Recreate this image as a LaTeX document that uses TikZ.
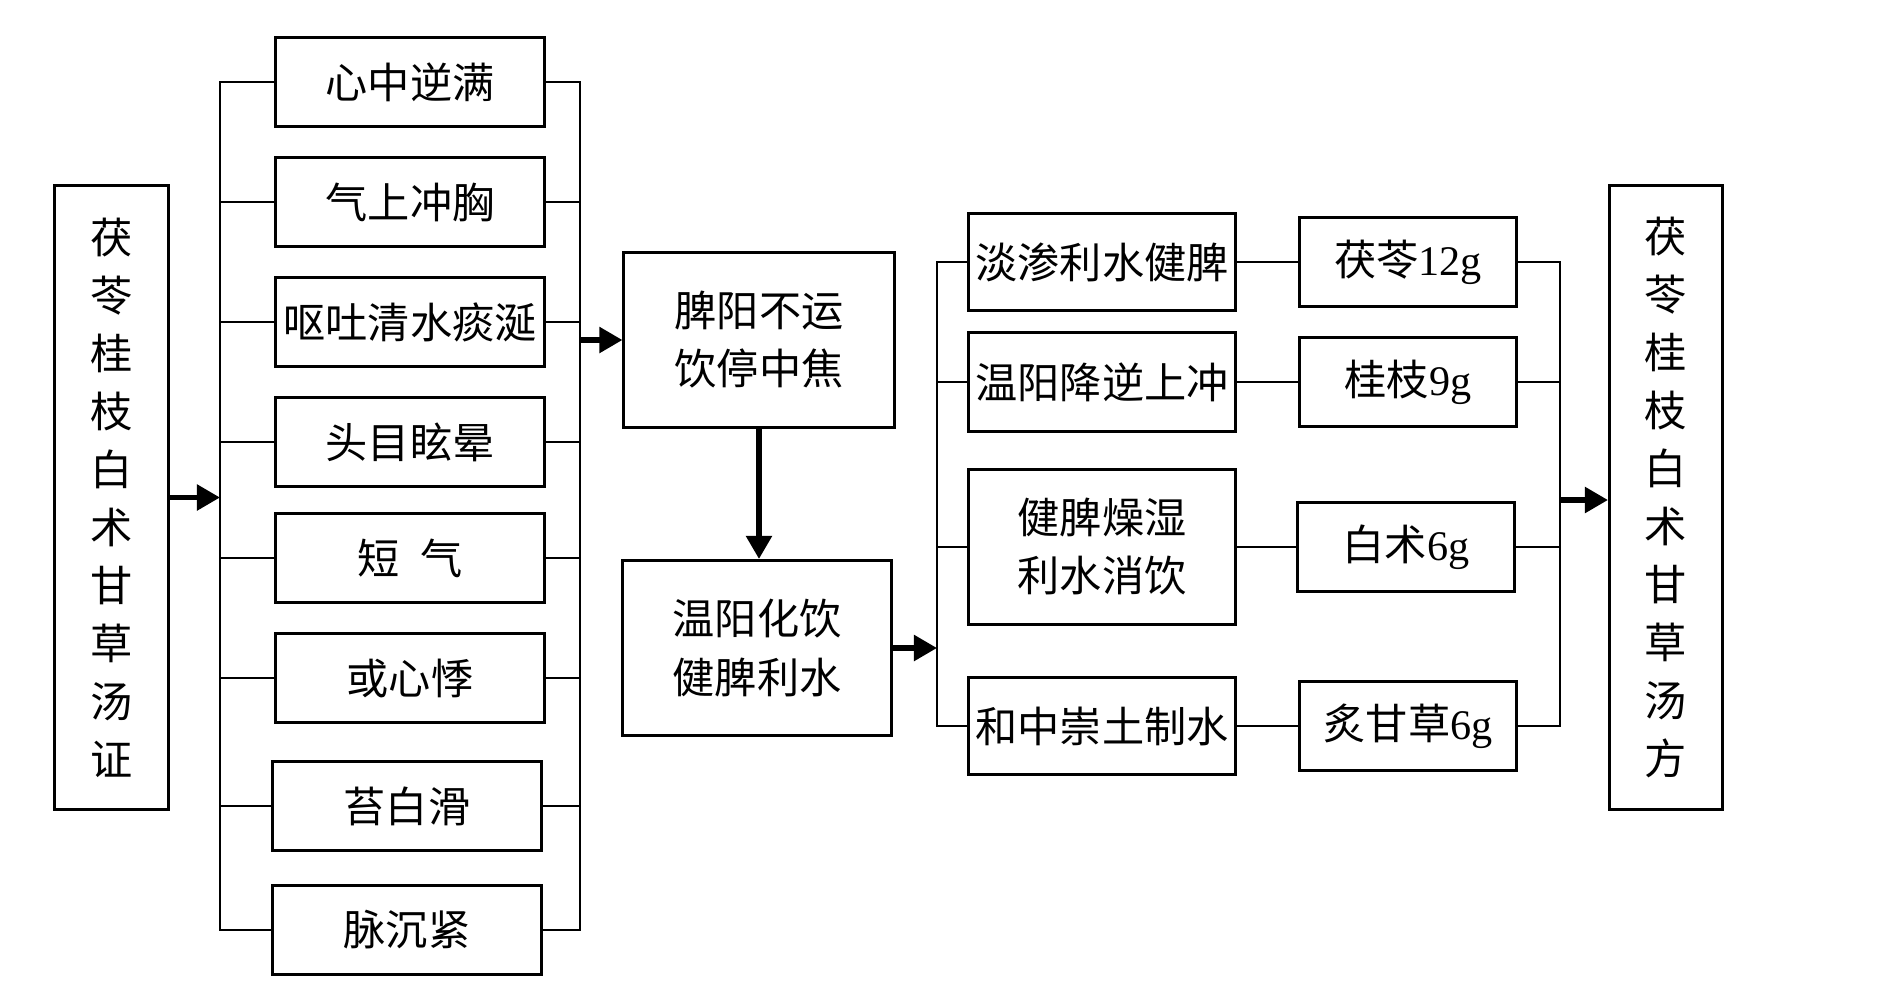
\documentclass[tikz,border=0pt]{standalone}
\usepackage{fontspec}
\setmainfont{Liberation Serif}
\newfontfamily\cjk{Noto Sans CJK SC}
\usetikzlibrary{arrows.meta}
\newcommand{\SymX}{410}
\newcommand{\FunX}{1102}
\newcommand{\HerbX}{1408}

\begin{document}
\begin{tikzpicture}[x=0.01cm,y=-0.01cm,
  cell/.style={draw,line width=0.85pt,inner sep=0pt,align=center,
    font=\cjk\fontsize{12}{16.5}\selectfont},
  symcell/.style={cell,minimum width=2.69cm,minimum height=0.89cm},
  funcell/.style={cell,minimum width=2.66cm},
  herbcell/.style={cell,minimum width=2.16cm,minimum height=0.88cm},
  link/.style={line width=0.6pt},
  flow/.style={line width=1.5pt,-{Triangle[length=2.3mm,width=2.5mm]}}]

\useasboundingbox (0,0) rectangle (1896,984);

% left: syndrome
\node[cell,minimum width=1.13cm,minimum height=6.23cm] (zheng) at (111.5,497.5)
  {茯\\苓\\桂\\枝\\白\\术\\甘\\草\\汤\\证};

% symptoms
\node[symcell] (s1) at (\SymX,82) {心中逆满};
\node[symcell] (s2) at (\SymX,202) {气上冲胸};
\node[symcell] (s3) at (\SymX,322) {呕吐清水痰涎};
\node[symcell] (s4) at (\SymX,442) {头目眩晕};
\node[symcell] (s5) at (\SymX,558) {短\hspace{0.5em}气};
\node[symcell] (s6) at (\SymX,678) {或心悸};
\node[symcell] (s7) at (\SymX-3,806) {苔白滑};
\node[symcell] (s8) at (\SymX-3,930) {脉沉紧};

\coordinate (lbus) at (220,497.5);
\coordinate (rbus) at (580,340);
\draw[link] (s1.west) -| (lbus) |- (s8.west);
\draw[link] (s1.east) -| (rbus) |- (s8.east);
\foreach \i in {2,...,7} {
  \draw[link] (s\i.west) -- (s\i.west -| lbus);
  \draw[link] (s\i.east) -- (s\i.east -| rbus);
}
\draw[flow] (zheng.east) -- (lbus);

% pathogenesis and treatment
\node[cell,minimum width=2.70cm,minimum height=1.75cm] (pi) at (759,340)
  {脾阳不运\\饮停中焦};
\node[cell,minimum width=2.69cm,minimum height=1.75cm] (wen) at (757,648)
  {温阳化饮\\健脾利水};
\draw[flow] (rbus) -- (pi.west |- rbus);
\draw[flow] (pi.south) -- (pi.south |- wen.north);

% functions
\node[funcell,minimum height=0.96cm] (f1) at (\FunX,262) {淡渗利水健脾};
\node[funcell,minimum height=0.98cm] (f2) at (\FunX,382) {温阳降逆上冲};
\node[funcell,minimum height=1.54cm] (f3) at (\FunX,547) {健脾燥湿\\利水消饮};
\node[funcell,minimum height=0.96cm] (f4) at (\FunX,726) {和中崇土制水};

\coordinate (mbus) at (937,648);
\draw[flow] (wen.east) -- (mbus);
\draw[link] (f1.west) -| (mbus) |- (f4.west);
\draw[link] (f2.west) -- (f2.west -| mbus);
\draw[link] (f3.west) -- (f3.west -| mbus);

% herbs
\node[herbcell] (h1) at (\HerbX,262) {茯苓{\rmfamily 12g}};
\node[herbcell] (h2) at (\HerbX,382) {桂枝{\rmfamily 9g}};
\node[herbcell] (h3) at (\HerbX-2,547) {白术{\rmfamily 6g}};
\node[herbcell] (h4) at (\HerbX,726) {炙甘草{\rmfamily 6g}};
\foreach \i in {1,...,4}
  \draw[link] (f\i.east) -- (h\i.west);

\coordinate (hbus) at (1560,500);
\draw[link] (h1.east) -| (hbus) |- (h4.east);
\draw[link] (h2.east) -- (h2.east -| hbus);
\draw[link] (h3.east) -- (h3.east -| hbus);

% right: formula
\node[cell,minimum width=1.13cm,minimum height=6.23cm] (fang) at (1666,497.5)
  {茯\\苓\\桂\\枝\\白\\术\\甘\\草\\汤\\方};
\draw[flow] (hbus) -- (fang.west |- hbus);

\end{tikzpicture}
\end{document}
